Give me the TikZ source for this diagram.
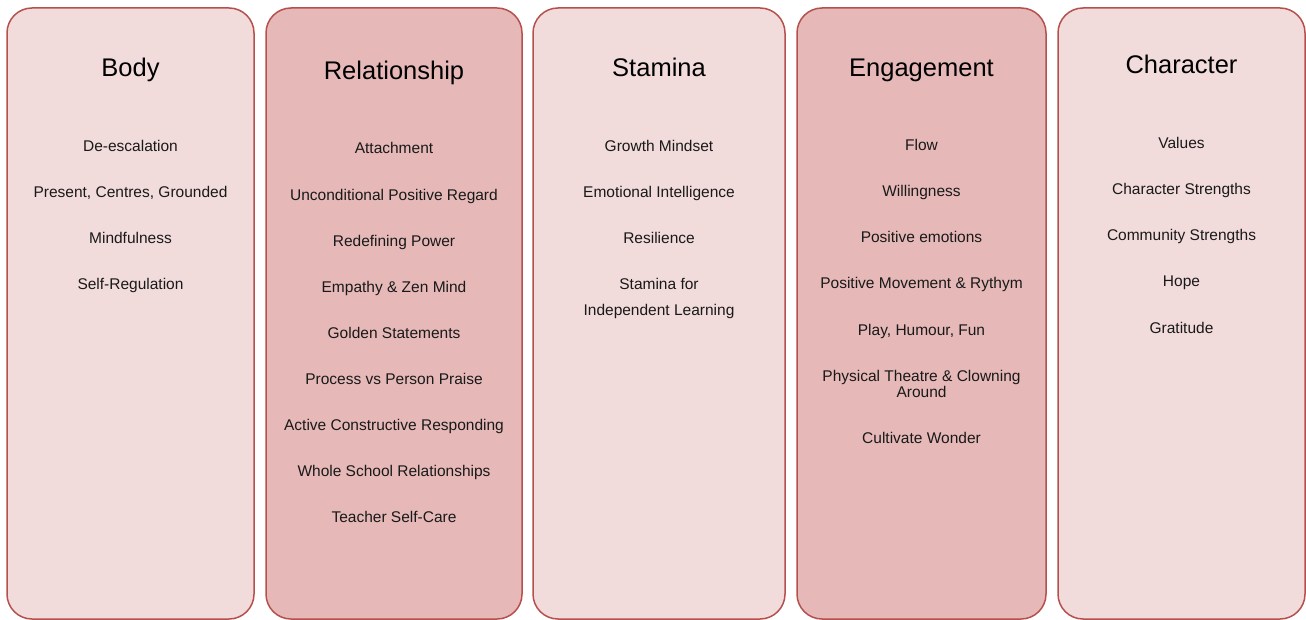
\documentclass[tikz,border=0pt]{standalone}
\usepackage{fontspec}
\setmainfont{Liberation Sans}
\usepackage{tikz}

\definecolor{pillarline}{HTML}{B5504D}
\definecolor{pillarlight}{HTML}{F2DCDB}
\definecolor{pillardark}{HTML}{E6B9B8}

\tikzset{
	pillar/.style={draw=pillarline, line width=1.5pt, rounded corners=25pt},
	heading/.style={anchor=base, inner sep=0pt, font=\fontsize{25.5}{30}\selectfont},
	item/.style={anchor=base, inner sep=0pt, text=black!90, font=\fontsize{15.5}{17}\selectfont},
}

\begin{document}
\begin{tikzpicture}[x=1pt, y=-1pt]
		\def\top{8};
		\def\bot{619};
		\def\gap{46};

		\useasboundingbox (0,0) rectangle (1306,620);

		% the five pillars
		\draw [pillar, fill=pillarlight] (7,\top) rectangle (254,\bot);
		\draw [pillar, fill=pillardark] (266,\top) rectangle (522,\bot);
		\draw [pillar, fill=pillarlight] (533,\top) rectangle (785,\bot);
		\draw [pillar, fill=pillardark] (797,\top) rectangle (1046,\bot);
		\draw [pillar, fill=pillarlight] (1058,\top) rectangle (1305,\bot);

		% headings
		\node [heading] (body) at (130.5,77) {Body};
		\node [heading] (relationship) at (394,80) {Relationship};
		\node [heading] (stamina) at (659,77) {Stamina};
		\node [heading] (engagement) at (921.5,77) {Engagement};
		\node [heading] (character) at (1181.5,74) {Character};

		% items under each heading
		\foreach \t [count=\i] in {De-escalation, {Present, Centres, Grounded}, Mindfulness, Self-Regulation}
			\node [item] (body\i) at (130.5,{152 + \gap*(\i-1)}) {\t};

		\foreach \t [count=\i] in {Attachment, Unconditional Positive Regard, Redefining Power, Empathy \& Zen Mind, Golden Statements, Process vs Person Praise, Active Constructive Responding, Whole School Relationships, Teacher Self-Care}
			\node [item] (rel\i) at (394,{154 + 46.1*(\i-1)}) {\t};

		\foreach \t [count=\i] in {Growth Mindset, Emotional Intelligence, Resilience}
			\node [item] (stam\i) at (659,{152 + \gap*(\i-1)}) {\t};
		\node [item] (stam4) at (659,290) {Stamina for};
		\node [item] (stam5) at (659,315) {Independent Learning};

		\foreach \t [count=\i] in {Flow, Willingness, Positive emotions, Positive Movement \& Rythym, {Play, Humour, Fun}}
			\node [item] (eng\i) at (921.5,{151 + \gap*(\i-1)}) {\t};
		\node [item] (eng6) at (921.5,381) {Physical Theatre \& Clowning};
		\node [item] (eng7) at (921.5,397) {Around};
		\node [item] (eng8) at (921.5,443) {Cultivate Wonder};

		\foreach \t [count=\i] in {Values, Character Strengths, Community Strengths, Hope, Gratitude}
			\node [item] (char\i) at (1181.5,{149 + \gap*(\i-1)}) {\t};
	\end{tikzpicture}
\end{document}
